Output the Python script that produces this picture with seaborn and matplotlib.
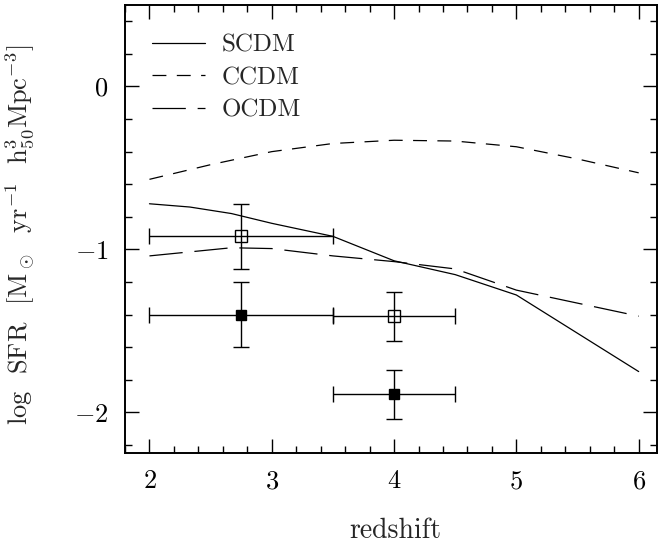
"""
plot.py
-------
Star formation rate vs redshift: model curves (SCDM / CCDM / OCDM)
with binned data points and their error bars.

Output: out.png (660 x 546 px)
"""

import numpy as np
import pandas as pd
import matplotlib
matplotlib.use("Agg")
import matplotlib.pyplot as plt
from matplotlib.ticker import MultipleLocator
import seaborn as sns


# ------------------------------------------------------------------
# DATA
# ------------------------------------------------------------------

scdm_z   = [2.0, 2.33, 2.67, 3.0, 3.5, 4.0, 4.5, 5.0, 6.0]
scdm_sfr = [-0.72, -0.74, -0.78, -0.84, -0.92, -1.07, -1.155, -1.28, -1.75]

ccdm_z   = [2.0, 2.5, 3.0, 3.5, 4.0, 4.5, 5.0, 5.5, 6.0]
ccdm_sfr = [-0.57, -0.48, -0.40, -0.35, -0.33, -0.335, -0.37, -0.445, -0.53]

ocdm_z   = [2.0, 2.67, 3.0, 3.5, 4.0, 4.5, 5.0, 6.0]
ocdm_sfr = [-1.04, -0.99, -0.995, -1.04, -1.075, -1.12, -1.25, -1.41]

# binned data points
open_z     = [2.75, 4.0]
open_sfr   = [-0.92, -1.41]
open_zlo   = [2.0, 3.5]
open_zhi   = [3.5, 4.5]
open_err   = [0.20, 0.15]

filled_z   = [2.75, 4.0]
filled_sfr = [-1.40, -1.89]
filled_zlo = [2.0, 3.5]
filled_zhi = [3.5, 4.5]
filled_err = [0.20, 0.15]


# ------------------------------------------------------------------
# STYLE
# ------------------------------------------------------------------

sns.set_style("ticks")
plt.rcParams.update({
    "font.family": ["cmr10", "DejaVu Serif"],
    "mathtext.fontset": "cm",
    "axes.formatter.use_mathtext": True,
    "axes.unicode_minus": True,
    "axes.linewidth": 1.4,
    "lines.scale_dashes": False,
    "xtick.direction": "in", "ytick.direction": "in",
    "xtick.top": True, "ytick.right": True,
    "xtick.major.size": 10, "ytick.major.size": 10,
    "xtick.minor.size": 5, "ytick.minor.size": 5,
    "xtick.major.width": 1.0, "ytick.major.width": 1.0,
    "xtick.minor.width": 1.0, "ytick.minor.width": 1.0,
    "xtick.color": "black", "ytick.color": "black",
    "axes.edgecolor": "black",
})


def model_frame(z, sfr):
    return pd.DataFrame({"z": z, "sfr": sfr})


# ------------------------------------------------------------------
# PLOT
# ------------------------------------------------------------------

fig = plt.figure(figsize=(6.6, 5.46), dpi=100)
ax = fig.add_axes([0.1894, 0.1703, 0.8061, 0.8205])

models = [
    ("SCDM", scdm_z, scdm_sfr, None),
    ("CCDM", ccdm_z, ccdm_sfr, (10, 7.5)),
    ("OCDM", ocdm_z, ocdm_sfr, (24, 8.5)),
]
for name, z, sfr, dash in models:
    sns.lineplot(data=model_frame(z, sfr), x="z", y="sfr", ax=ax,
                 color="black", linewidth=0.9, label=name,
                 estimator=None, sort=False)
    if dash is not None:
        ax.lines[-1].set_dashes(dash)

# error bars: horizontal = redshift bin, vertical = uncertainty
for zc, s, lo, hi, e, face in (
        [(a, b, c, d, f, "none") for a, b, c, d, f in
         zip(open_z, open_sfr, open_zlo, open_zhi, open_err)] +
        [(a, b, c, d, f, "black") for a, b, c, d, f in
         zip(filled_z, filled_sfr, filled_zlo, filled_zhi, filled_err)]):
    ax.errorbar(zc, s, xerr=[[zc - lo], [hi - zc]], yerr=e,
                fmt="s", ms=8 if face == "none" else 7,
                mfc=face, mec="black", mew=1.0,
                ecolor="black", elinewidth=1.0,
                capsize=5.5, capthick=1.0, zorder=3)

ax.set_xlim(1.8, 6.15)
ax.set_ylim(-2.25, 0.5)
ax.xaxis.set_major_locator(MultipleLocator(1))
ax.xaxis.set_minor_locator(MultipleLocator(0.2))
ax.yaxis.set_major_locator(MultipleLocator(1))
ax.yaxis.set_minor_locator(MultipleLocator(0.2))
ax.tick_params(axis="x", which="major", labelsize=19, pad=12)
ax.tick_params(axis="y", which="major", labelsize=19, pad=12)

ax.set_xlabel("redshift", fontsize=20)
ax.set_ylabel(r"log  SFR  [M$_\odot$  yr$^{-1}$  h$^{3}_{50}$Mpc$^{-3}$]",
              fontsize=19)
ax.xaxis.set_label_coords(0.508, -0.145)
ax.yaxis.set_label_coords(-0.165, 0.487)

ax.legend(loc="upper left", bbox_to_anchor=(0.05, 0.935),
          frameon=False, fontsize=18, handlelength=2.12,
          handletextpad=0.68, labelspacing=0.4,
          borderaxespad=0, borderpad=0)

for side in ["top", "right", "bottom", "left"]:
    ax.spines[side].set_visible(True)

fig.savefig("out.png", dpi=100)
